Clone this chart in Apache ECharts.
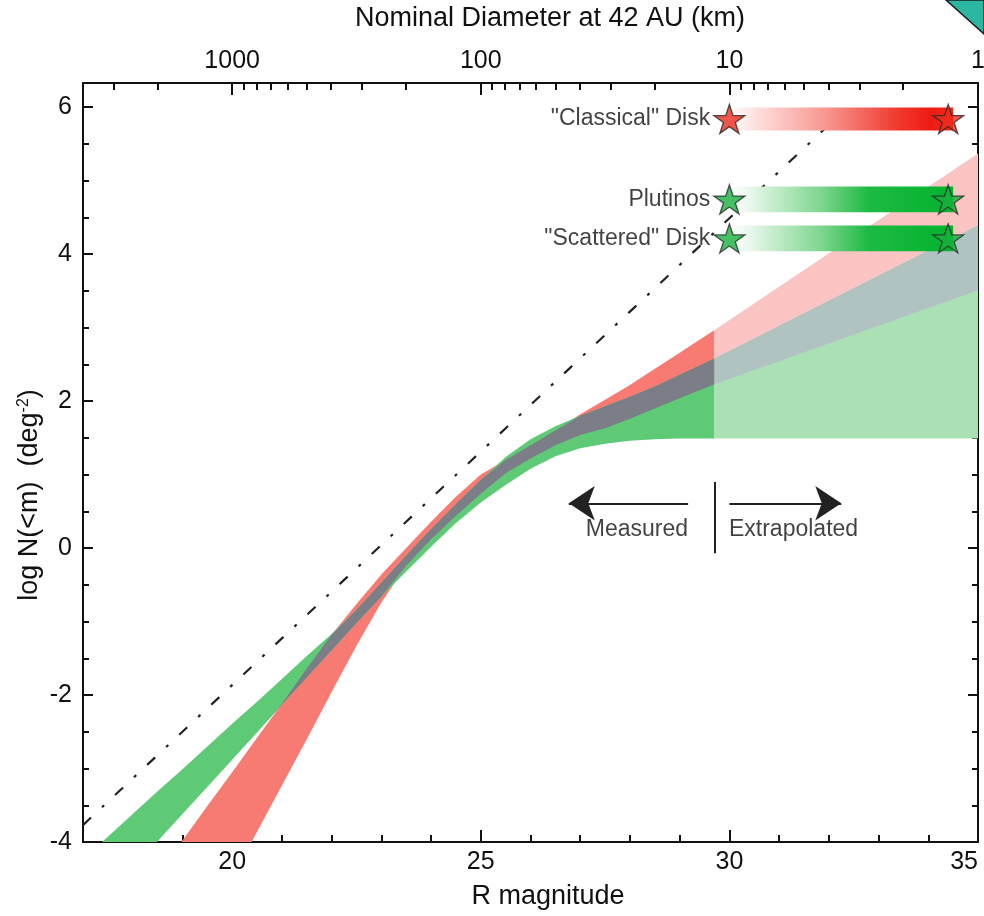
<!DOCTYPE html>
<html><head><meta charset="utf-8">
<script src="https://cdn.jsdelivr.net/npm/echarts@6/dist/echarts.min.js"></script>
<style>html,body{margin:0;padding:0;background:#fff}#chart{width:984px;height:916px}</style>
</head><body><div id="chart"></div>
<script>
// ---------------- data ----------------
const magGrid        = [17, 17.5, 18, 18.5, 19, 19.5, 20, 20.5, 21, 21.5, 22, 22.5, 23, 23.5, 24, 24.5, 25, 25.5, 26, 26.5, 27, 27.5, 28, 28.5, 29, 29.7];
const classicalUpper = [-5.85, -5.38, -4.91, -4.45, -3.98, -3.51, -3.05, -2.58, -2.12, -1.64, -1.18, -0.76, -0.36, 0.00, 0.36, 0.70, 1.00, 1.20, 1.40, 1.60, 1.82, 2.02, 2.22, 2.44, 2.66, 2.97];
const classicalLower = [-8.30, -7.66, -7.03, -6.40, -5.76, -5.13, -4.49, -3.86, -3.23, -2.60, -1.96, -1.33, -0.74, -0.24, 0.12, 0.44, 0.74, 1.02, 1.22, 1.40, 1.54, 1.63, 1.76, 1.90, 2.04, 2.23];
const excitedUpper   = [-4.23, -3.93, -3.62, -3.31, -3.01, -2.70, -2.39, -2.09, -1.78, -1.47, -1.17, -0.84, -0.47, -0.10, 0.26, 0.60, 0.93, 1.24, 1.48, 1.66, 1.80, 1.93, 2.06, 2.20, 2.36, 2.58];
const excitedLower   = [-5.11, -4.74, -4.36, -3.99, -3.62, -3.25, -2.88, -2.51, -2.13, -1.76, -1.39, -1.02, -0.66, -0.32, 0.02, 0.34, 0.62, 0.86, 1.08, 1.25, 1.36, 1.42, 1.46, 1.48, 1.49, 1.49];

const extrapMag            = [29.7, 35];
const classicalUpperExtrap = [2.97, 5.37];
const classicalLowerExtrap = [2.23, 3.51];
const excitedUpperExtrap   = [2.58, 4.39];
const excitedLowerExtrap   = [1.49, 1.49];

const refLineMag  = [17, 32.0];
const refLineLogN = [-3.77, 5.76];

const popNames   = ['"Classical" Disk', 'Plutinos', '"Scattered" Disk'];
const popLogN    = [5.84, 4.745, 4.215];
const popBarHalf = [0.155, 0.175, 0.175];
const starMag    = [30.0, 34.4];
const barMag     = [30.0, 34.5];

const dividerMag  = 29.7;
const dividerLogN = [-0.07, 0.90];
const arrowLogN   = 0.61;
const arrowLeft   = [29.17, 26.77];
const arrowRight  = [30.0, 32.25];
const noteNames   = ['Measured', 'Extrapolated'];
const noteMag     = [28.14, 31.29];
const noteLogN    = [0.245, 0.245];

const bottomMajor = [20, 25, 30, 35];
const bottomMinor = [18, 19, 21, 22, 23, 24, 26, 27, 28, 29, 31, 32, 33, 34];
const yMajor = [-4, -2, 0, 2, 4, 6];
const yMinor = [-3.5, -3, -2.5, -1.5, -1, -0.5, 0.5, 1, 1.5, 2.5, 3, 3.5, 4.5, 5, 5.5];
const topMajorDiam = [1000, 100, 10, 1];
const topMinorDiam = [3000, 2000, 900, 800, 700, 600, 500, 400, 300, 200, 90, 80, 70, 60, 50, 40, 30, 20, 9, 8, 7, 6, 5, 4, 3, 2];

// ---------------- helpers ----------------
const FONT = '"Liberation Sans", Arial, Helvetica, sans-serif';
const TXT = '#111';
const magFromDiam = d => 20 + 5 * (3 - Math.log10(d));
const topMajorMag = topMajorDiam.map(magFromDiam);
const topMinorMag = topMinorDiam.map(magFromDiam);

const pairs = (xs, ys) => xs.map((x, i) => [x, ys[i]]);
const maxOf = (a, b) => a.map((v, i) => Math.max(v, b[i]));
const overlapTop = (a, b, lo) => a.map((v, i) => Math.max(lo[i], Math.min(v, b[i])));

// a filled band between two boundary curves, drawn through the cartesian scales
function band(id, xs, lo, hi, color, z) {
  return {
    type: 'custom', id: id, silent: true, clip: true, z: z,
    data: [[xs[0], lo[0]]],
    renderItem: (params, api) => {
      const top = xs.map((x, i) => api.coord([x, hi[i]]));
      const bot = xs.map((x, i) => api.coord([x, lo[i]])).reverse();
      return {type: 'polygon', shape: {points: top.concat(bot)}, style: {fill: color}};
    }
  };
}

const ovLo = maxOf(classicalLower, excitedLower);
const ovHi = overlapTop(classicalUpper, excitedUpper, ovLo);
const ovLoX = maxOf(classicalLowerExtrap, excitedLowerExtrap);
const ovHiX = overlapTop(classicalUpperExtrap, excitedUpperExtrap, ovLoX);

const starPath = 'path://M50,0L61.23,34.55L97.55,34.55L68.17,55.9L79.39,90.45L50,69.1L20.61,90.45L31.83,55.9L2.45,34.55L38.77,34.55Z';
const starColors = ['#EF2A1C', '#17B03C', '#17B03C'];

const redStops = [
  {offset: 0, color: '#FFFFFF'}, {offset: 0.1, color: '#FDE4E2'}, {offset: 0.45, color: '#F7928B'},
  {offset: 0.75, color: '#F03A2E'}, {offset: 0.9, color: '#EE1B12'}, {offset: 1, color: '#F02A20'}];
const greenStops = [
  {offset: 0, color: '#FFFFFF'}, {offset: 0.1, color: '#E6F6E9'}, {offset: 0.42, color: '#7BD48D'},
  {offset: 0.62, color: '#1DBA43'}, {offset: 1, color: '#03B22C'}];

const axLine = {show: true, onZero: false, lineStyle: {color: '#111', width: 2}};
const noLine = {show: false, onZero: false};
const tickStyle = {color: '#111', width: 2};
const labelBase = {color: TXT, fontFamily: FONT, fontSize: 25};

const xCommon = {type: 'value', min: 17, max: 35, splitLine: {show: false}};
const yCommon = {type: 'value', min: -4, max: 6.33, splitLine: {show: false}};

const option = {
  animation: false,
  backgroundColor: '#fff',
  grid: {left: 83, right: 6, top: 83, bottom: 74, containLabel: false, outerBoundsMode: 'none'},
  xAxis: [
    Object.assign({}, xCommon, {position: 'bottom', axisLine: axLine,
      axisTick: {inside: true, length: 12, customValues: bottomMajor, lineStyle: tickStyle},
      axisLabel: Object.assign({}, labelBase, {customValues: bottomMajor, margin: 8, alignMaxLabel: 'right'})}),
    Object.assign({}, xCommon, {position: 'bottom', axisLine: noLine,
      axisTick: {inside: true, length: 7, customValues: bottomMinor, lineStyle: tickStyle},
      axisLabel: {show: false}}),
    Object.assign({}, xCommon, {position: 'top', axisLine: axLine,
      axisTick: {inside: true, length: 12, customValues: topMajorMag, lineStyle: tickStyle},
      axisLabel: Object.assign({}, labelBase, {customValues: topMajorMag, margin: 9,
        formatter: v => { const i = topMajorMag.findIndex(m => Math.abs(m - v) < 1e-6); return i < 0 ? '' : String(topMajorDiam[i]); }})}),
    Object.assign({}, xCommon, {position: 'top', axisLine: noLine,
      axisTick: {inside: true, length: 7, customValues: topMinorMag, lineStyle: tickStyle},
      axisLabel: {show: false}})
  ],
  yAxis: [
    Object.assign({}, yCommon, {position: 'left', axisLine: axLine,
      axisTick: {inside: true, length: 10, customValues: yMajor, lineStyle: tickStyle},
      axisLabel: Object.assign({}, labelBase, {customValues: yMajor, margin: 11})}),
    Object.assign({}, yCommon, {position: 'left', axisLine: noLine,
      axisTick: {inside: true, length: 6, customValues: yMinor, lineStyle: tickStyle},
      axisLabel: {show: false}}),
    Object.assign({}, yCommon, {position: 'right', axisLine: axLine,
      axisTick: {inside: true, length: 10, customValues: yMajor, lineStyle: tickStyle},
      axisLabel: {show: false}}),
    Object.assign({}, yCommon, {position: 'right', axisLine: noLine,
      axisTick: {inside: true, length: 6, customValues: yMinor, lineStyle: tickStyle},
      axisLabel: {show: false}})
  ],
  graphic: [
    {type: 'text', x: 550, y: 19, style: {text: 'Nominal Diameter at 42 AU (km)', fill: TXT, font: '27px ' + FONT, textAlign: 'center', textVerticalAlign: 'middle'}},
    {type: 'text', x: 548, y: 897, style: {text: 'R magnitude', fill: TXT, font: '27px ' + FONT, textAlign: 'center', textVerticalAlign: 'middle'}},
    {type: 'text', x: 30, y: 495, rotation: Math.PI / 2,
     style: {text: 'log N(<m)  (deg{sup|-2})', fill: TXT, font: '27px ' + FONT, textAlign: 'center', textVerticalAlign: 'middle',
       rich: {sup: {fontSize: 16, fontFamily: FONT, fill: TXT, verticalAlign: 'top', padding: [0, 0, 12, 0]}}}},
    {type: 'polygon', shape: {points: [[946, 0], [984, 0], [984, 34]]}, style: {fill: '#2BB7A2', stroke: '#1d1d1d', lineWidth: 1.5}, z: 100}
  ],
  series: [
    band('redM', magGrid, classicalLower, classicalUpper, '#F87B73', 2),
    band('greenM', magGrid, excitedLower, excitedUpper, '#5ECA75', 3),
    band('grayM', magGrid, ovLo, ovHi, '#7B7E87', 4),
    band('redX', extrapMag, classicalLowerExtrap, classicalUpperExtrap, '#F9C4C1', 2),
    band('greenX', extrapMag, excitedLowerExtrap, excitedUpperExtrap, '#A9E1B5', 3),
    band('grayX', extrapMag, ovLoX, ovHiX, '#B1C2C2', 4),
    {type: 'line', id: 'refline', data: pairs(refLineMag, refLineLogN), symbol: 'none', silent: true, z: 15,
     lineStyle: {color: '#222', width: 2.2, type: [11, 15, 3, 15]},
     markLine: {silent: true, animation: false, label: {show: false}, emphasis: {disabled: true},
       symbol: ['none', 'none'], symbolSize: 26,
       data: [
         [{coord: [dividerMag, dividerLogN[0]], symbol: 'none', lineStyle: {color: '#222', width: 2, type: 'solid'}},
          {coord: [dividerMag, dividerLogN[1]], symbol: 'none'}],
         [{coord: [arrowLeft[0], arrowLogN], symbol: 'none', lineStyle: {color: '#222', width: 2, type: 'solid'}},
          {coord: [arrowLeft[1], arrowLogN], symbol: 'arrow', symbolSize: 26}],
         [{coord: [arrowRight[0], arrowLogN], symbol: 'none', lineStyle: {color: '#222', width: 2, type: 'solid'}},
          {coord: [arrowRight[1], arrowLogN], symbol: 'arrow', symbolSize: 26}]
       ]}},
    {type: 'custom', id: 'popbars', silent: true, z: 20, clip: true,
     encode: {x: [0, 1], y: 2},
     data: popLogN.map((y, i) => [barMag[0], barMag[1], y, popBarHalf[i]]),
     renderItem: (params, api) => {
       const a = api.coord([api.value(0), api.value(2) + api.value(3)]);
       const b = api.coord([api.value(1), api.value(2) - api.value(3)]);
       const stops = params.dataIndex === 0 ? redStops : greenStops;
       return {type: 'rect', shape: {x: a[0], y: a[1], width: b[0] - a[0], height: b[1] - a[1]},
               style: {fill: new echarts.graphic.LinearGradient(0, 0, 1, 0, stops)}};
     }},
    {type: 'scatter', id: 'starsL', z: 25, silent: true, symbol: starPath, symbolSize: [31, 29],
     data: popLogN.map((y, i) => ({value: [starMag[0], y], name: popNames[i],
       itemStyle: {color: starColors[i], borderColor: '#2a2a2a', borderWidth: 1.3}})),
     label: {show: true, position: 'left', distance: 3, formatter: '{b}', color: TXT, fontFamily: FONT, fontSize: 23}},
    {type: 'scatter', id: 'starsR', z: 25, silent: true, symbol: starPath, symbolSize: [31, 29],
     data: popLogN.map((y, i) => ({value: [starMag[1], y],
       itemStyle: {color: starColors[i], borderColor: '#2a2a2a', borderWidth: 1.3}}))},
    {type: 'scatter', id: 'notes', z: 30, silent: true, symbolSize: 0,
     data: noteNames.map((n, i) => ({value: [noteMag[i], noteLogN[i]], name: n})),
     label: {show: true, position: 'inside', formatter: '{b}', color: TXT, fontFamily: FONT, fontSize: 23}}
  ]
};

const chart = echarts.init(document.getElementById('chart'), null, {renderer: 'canvas'});
chart.setOption(option);
</script></body></html>
